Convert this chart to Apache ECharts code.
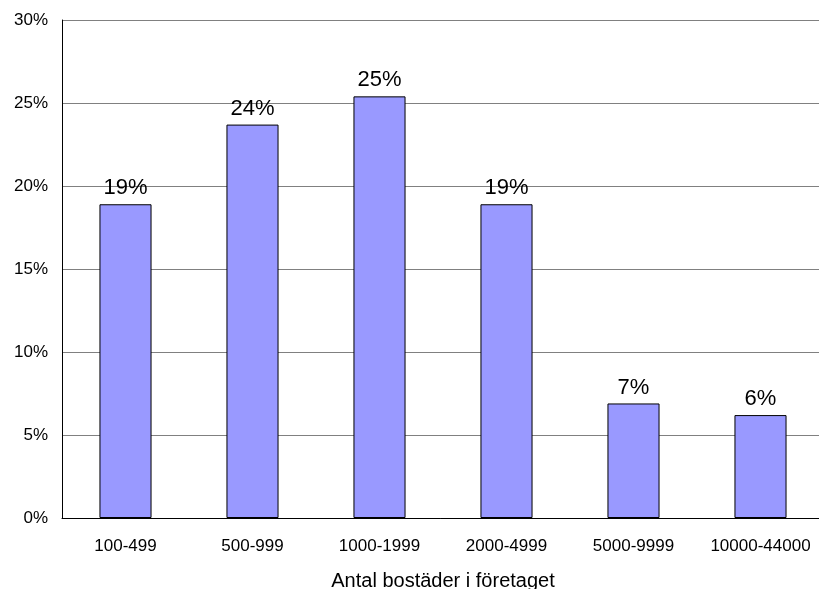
<!DOCTYPE html>
<html><head><meta charset="utf-8">
<script src="https://cdn.jsdelivr.net/npm/echarts@6/dist/echarts.min.js"></script>
<style>html,body{margin:0;padding:0;background:#fff}#c{width:819px;height:589px}</style>
</head><body><div id="c"></div>
<script>
const categories = ["100-499","500-999","1000-1999","2000-4999","5000-9999","10000-44000"];
const values = [18.9, 23.7, 25.4, 18.9, 6.9, 6.2];
const xAxisTitle = "Antal bostäder i företaget";
const chart = echarts.init(document.getElementById('c'));
chart.setOption({
  animation: false,
  grid: {left: 62, width: 762, top: 20, height: 498, containLabel: false, outerBoundsMode: 'none'},
  xAxis: {
    type: 'category', data: categories,
    name: xAxisTitle, nameLocation: 'middle', nameGap: 53,
    nameTextStyle: {fontFamily: 'Liberation Sans', fontSize: 20, color: '#000'},
    axisLine: {lineStyle: {color: '#000', width: 1}},
    axisTick: {show: false},
    axisLabel: {interval: 0, hideOverlap: false, fontFamily: 'Liberation Sans', fontSize: 17, color: '#000', margin: 20}
  },
  yAxis: {
    type: 'value', min: 0, max: 30, interval: 5,
    axisLine: {show: true, lineStyle: {color: '#000', width: 1}},
    axisTick: {show: false},
    splitLine: {lineStyle: {color: '#808080', width: 1}},
    axisLabel: {formatter: '{value}%', fontFamily: 'Liberation Sans', fontSize: 17, color: '#000', margin: 14}
  },
  series: [{
    type: 'bar', data: values, barWidth: '41%',
    itemStyle: {color: '#9999ff', borderColor: '#000', borderWidth: 1},
    label: {show: true, position: 'top', distance: 5,
      formatter: p => Math.round(p.value) + '%',
      fontFamily: 'Liberation Sans', fontSize: 22, color: '#000'}
  }]
});
</script></body></html>
